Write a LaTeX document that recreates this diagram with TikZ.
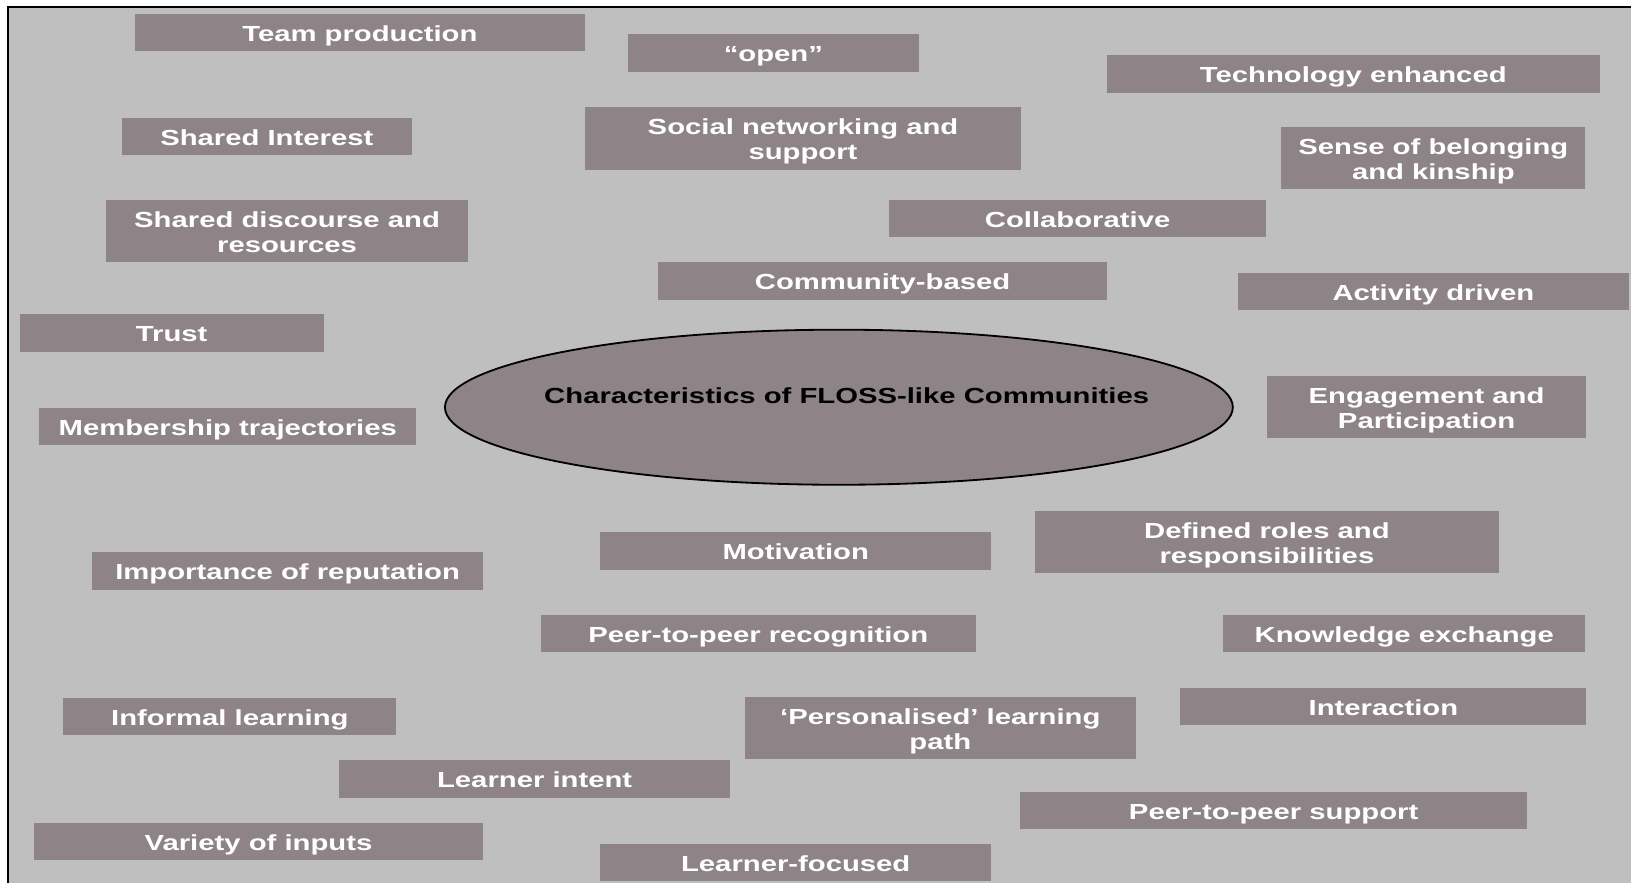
\documentclass[tikz,border=0pt]{standalone}
\usepackage{fontspec}
\setmainfont{Liberation Sans}[FakeStretch=1.34]
\usetikzlibrary{shapes.geometric}
\definecolor{panel}{RGB}{191,191,191}
\definecolor{tag}{RGB}{142,132,135}
\tikzset{
  trait/.style={fill=tag, text=white, font=\fontsize{5.97}{6.83}\selectfont\bfseries,
    inner sep=0pt, minimum height=0.36cm, align=center, text height=6pt, text depth=1.2pt},
  twoline/.style={trait, minimum height=0.6cm, text height=12.8pt, text depth=1.2pt},
  hub/.style={ellipse, draw=black, line width=0.5pt, fill=tag, inner sep=0pt,
    minimum width=7.57cm, minimum height=1.49cm},
  hubtext/.style={text=black, font=\fontsize{5.97}{6.83}\selectfont\bfseries, inner sep=0pt}
}
\begin{document}
\begin{tikzpicture}[x=0.01cm, y=-0.01cm]
  \useasboundingbox (0,0) rectangle (1568,849);
  % panel
  \fill[panel] (8,7) rectangle (1568,849);
  \draw[line width=0.6pt] (8,849) -- (8,7) -- (1568,7);
  % centre
  \node[hub] (hub) at (806.5,391.5) {};
  \node[hubtext] (title) at (814,380) {Characteristics of FLOSS-like Communities};
  % top half
  \node[trait, minimum width=4.32cm] (team) at (346,31) {Team production};
  \node[trait, minimum width=2.79cm] (open) at (743.5,51) {“open”};
  \node[trait, minimum width=4.74cm] (tech) at (1301,71) {Technology enhanced};
  \node[trait, minimum width=2.79cm] (shared) at (256.5,131) {Shared Interest};
  \node[twoline, minimum width=4.18cm] (social) at (772,133) {Social networking and\\support};
  \node[twoline, minimum width=2.92cm] (belong) at (1378,152) {Sense of belonging\\and kinship};
  \node[twoline, minimum width=3.48cm] (discourse) at (276,222) {Shared discourse and\\resources};
  \node[trait, minimum width=3.62cm] (collab) at (1036,210) {Collaborative};
  \node[trait, minimum width=4.31cm] (community) at (848.5,270) {Community-based};
  \node[trait, minimum width=3.76cm] (activity) at (1378,280.5) {Activity driven};
  \node[trait, minimum width=2.92cm] (trust) at (165,320) {Trust};
  \node[trait, minimum width=3.62cm] (member) at (219,410) {Membership trajectories};
  \node[twoline, minimum width=3.07cm] (engage) at (1371.5,391.5) {Engagement and\\Participation};
  % bottom half
  \node[twoline, minimum width=4.46cm] (roles) at (1218,521) {Defined roles and\\responsibilities};
  \node[trait, minimum width=3.76cm] (motiv) at (765,529.5) {Motivation};
  \node[trait, minimum width=3.75cm] (reput) at (276.5,549) {Importance of reputation};
  \node[trait, minimum width=4.18cm] (recog) at (729,609) {Peer-to-peer recognition};
  \node[trait, minimum width=3.48cm] (knowl) at (1350,609) {Knowledge exchange};
  \node[trait, minimum width=3.20cm] (informal) at (221,689) {Informal learning};
  \node[twoline, minimum width=3.76cm] (personal) at (904,700) {‘Personalised’ learning\\path};
  \node[trait, minimum width=3.90cm] (interact) at (1330,679) {Interaction};
  \node[trait, minimum width=3.76cm] (intent) at (514,749) {Learner intent};
  \node[trait, minimum width=4.87cm] (support) at (1224.5,779) {Peer-to-peer support};
  \node[trait, minimum width=4.31cm] (variety) at (248.5,809) {Variety of inputs};
  \node[trait, minimum width=3.76cm] (focused) at (765,829) {Learner-focused};
\end{tikzpicture}
\end{document}
